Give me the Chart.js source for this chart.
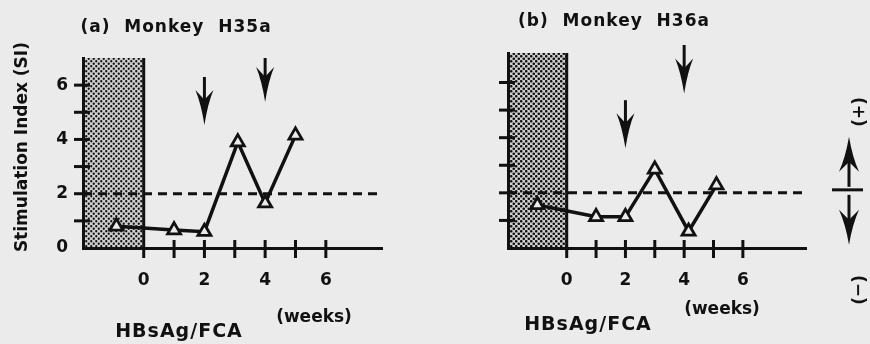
<!DOCTYPE html>
<html><head><meta charset="utf-8">
<script src="https://cdn.jsdelivr.net/npm/chart.js@4"></script>
<style>
html,body{margin:0;padding:0;background:#ebebeb;width:870px;height:344px;overflow:hidden}
#ca{position:absolute;left:0;top:0}
#cb{position:absolute;left:430px;top:0}
</style></head><body>
<canvas id="ca" width="430" height="344"></canvas>
<canvas id="cb" width="440" height="344"></canvas>
<script>
// ---- data ----
const weeksA = [-0.9, 1, 2, 3.1, 4, 5];
const siA    = [0.8, 0.66, 0.6, 3.9, 1.65, 4.15];
const weeksB = [-1, 1, 2, 3, 4.15, 5.1];
const siB    = [1.56, 1.13, 1.13, 2.85, 0.6, 2.28];
const thresholdSI = 2;
const immunization = [-2, 0];          // shaded HBsAg/FCA period (weeks)
const xTickLabels = [0, 2, 4, 6];
const yTickLabelsA = [0, 2, 4, 6];
const arrowWeeksA = [2, 4];
const arrowTailA  = [6.3, 7.0];
const arrowTipA   = [4.53, 5.38];
const arrowWeeksB = [2, 4];
const arrowTailB  = [5.36, 7.36];
const arrowTipB   = [3.62, 5.6];
const titleA = '(a)  Monkey  H35a';
const titleB = '(b)  Monkey  H36a';
const yTitle = 'Stimulation Index (SI)';
const weeksLabel = '(weeks)';
const immunLabel = 'HBsAg/FCA';

const FONT = '"DejaVu Sans", sans-serif';
const BG = '#ebebeb';
const INK = '#111';

function makePattern(ctx, r){
  const c = document.createElement('canvas'); c.width = 5; c.height = 5;
  const g = c.getContext('2d');
  g.fillStyle = '#cfcfcf'; g.fillRect(0,0,5,5);
  g.fillStyle = '#111';
  [[1.25,1.25],[3.75,3.75]].forEach(([x,y])=>{g.beginPath();g.arc(x,y,r,0,Math.PI*2);g.fill();});
  return ctx.createPattern(c,'repeat');
}

function drawArrow(ctx, x, yTail, yTip, headLen, headW){
  const dir = yTip > yTail ? 1 : -1;
  ctx.save();
  ctx.strokeStyle = INK; ctx.fillStyle = INK; ctx.lineWidth = 3;
  ctx.beginPath(); ctx.moveTo(x, yTail); ctx.lineTo(x, yTip - dir*headLen*0.6); ctx.stroke();
  const yb = yTip - dir*headLen;
  ctx.beginPath();
  ctx.moveTo(x, yTip);
  ctx.quadraticCurveTo(x+headW*0.18, yTip - dir*headLen*0.6, x+headW/2, yb);
  ctx.lineTo(x, yTip - dir*headLen*0.72);
  ctx.lineTo(x-headW/2, yb);
  ctx.quadraticCurveTo(x-headW*0.18, yTip - dir*headLen*0.6, x, yTip);
  ctx.fill();
  ctx.restore();
}

function panelPlugin(cfg){
  return {
    id: 'panel'+cfg.key,
    beforeDraw(chart){
      const {ctx, scales:{x,y}} = chart;
      const x0 = x.getPixelForValue(immunization[0]), x1 = x.getPixelForValue(immunization[1]);
      const yt = y.getPixelForValue(y.max), yb = y.getPixelForValue(0);
      ctx.save();
      ctx.fillStyle = makePattern(ctx, cfg.dotR);
      ctx.fillRect(x0, yt, x1-x0, yb-yt);
      ctx.restore();
    },
    beforeDatasetsDraw(chart){
      const {ctx, scales:{x,y}} = chart;
      const yb = y.getPixelForValue(0), yt = y.getPixelForValue(y.max);
      const xl = x.getPixelForValue(x.min);
      ctx.save();
      ctx.strokeStyle = INK; ctx.lineWidth = 3;
      const x1 = x.getPixelForValue(immunization[1]);
      ctx.beginPath(); ctx.moveTo(x1, yt); ctx.lineTo(x1, yb+10); ctx.stroke();
      for (let w = 1; w <= 6; w++){
        const px = x.getPixelForValue(w);
        ctx.beginPath(); ctx.moveTo(px, yb-8); ctx.lineTo(px, yb+10); ctx.stroke();
      }
      for (let v = 1; v <= 6; v++){
        const py = y.getPixelForValue(v);
        ctx.beginPath(); ctx.moveTo(xl-9, py); ctx.lineTo(xl+7, py); ctx.stroke();
      }
      ctx.restore();
    },
    afterDraw(chart){
      const {ctx, scales:{x,y}} = chart;
      ctx.save();
      for (let i = 0; i < cfg.arrowWeeks.length; i++){
        drawArrow(ctx, x.getPixelForValue(cfg.arrowWeeks[i]), y.getPixelForValue(cfg.arrowTail[i]), y.getPixelForValue(cfg.arrowTip[i]), 35, 18);
      }
      ctx.fillStyle = INK;
      ctx.textAlign = 'center'; ctx.textBaseline = 'middle';
      ctx.font = 'bold 17px ' + FONT;
      ctx.letterSpacing = '1px';
      ctx.fillText(cfg.title, cfg.titlePos[0], cfg.titlePos[1]);
      ctx.letterSpacing = '0px';
      ctx.fillText(weeksLabel, cfg.weeksPos[0], cfg.weeksPos[1]);
      ctx.font = 'bold 19px ' + FONT;
      ctx.letterSpacing = '1px';
      ctx.fillText(immunLabel, cfg.immPos[0], cfg.immPos[1]);
      ctx.letterSpacing = '0px';
      if (cfg.legend){
        const ly = y.getPixelForValue(thresholdSI) - 3;
        const lx = cfg.legend;
        ctx.lineWidth = 3; ctx.strokeStyle = INK;
        ctx.beginPath(); ctx.moveTo(lx-17, ly); ctx.lineTo(lx+14, ly); ctx.stroke();
        drawArrow(ctx, lx, ly-3, ly-53, 35, 20);
        drawArrow(ctx, lx, ly+5, ly+55, 35, 20);
        ctx.font = 'bold 17px ' + FONT;
        ['(+)','(\u2212)'].forEach((t,i)=>{
          ctx.save();
          ctx.translate(lx+8, i===0 ? ly-78 : ly+100);
          ctx.rotate(Math.PI/2);
          ctx.fillText(t, 0, 0);
          ctx.restore();
        });
      }
      ctx.restore();
    }
  };
}

function makeChart(id, cfg){
  const pts = cfg.weeks.map((w,i)=>({x:w, y:cfg.si[i]}));
  return new Chart(document.getElementById(id), {
    type: 'scatter',
    data: { datasets: [
      { data: pts, showLine: true, borderColor: INK, borderWidth: 3.5,
        pointStyle: 'triangle', pointRadius: 7.5, pointBorderWidth: 2.8,
        pointBackgroundColor: BG, pointBorderColor: INK, clip: false, order: 0 },
      { data: [{x: cfg.xmin, y: thresholdSI}, {x: cfg.xmax, y: thresholdSI}],
        showLine: true, borderColor: INK, borderWidth: 3, borderDash: [9, 6],
        pointRadius: 0, order: 1 }
    ]},
    options: {
      responsive: false, animation: false, devicePixelRatio: 1,
      plugins: { legend: {display: false}, tooltip: {enabled: false} },
      layout: { padding: { left: 0, top: cfg.top, right: cfg.right, bottom: 0 } },
      scales: {
        x: { type: 'linear', min: cfg.xmin, max: cfg.xmax,
             afterFit: s => { s.height = 96; },
             afterBuildTicks: s => { s.ticks = []; for (let w = cfg.xmin; w <= 7; w++) s.ticks.push({value: w}); },
             grid: { display: false, drawTicks: false },
             border: { display: true, color: INK, width: 3 },
             ticks: { padding: 22, color: INK, font: { family: FONT, size: 17, weight: 'bold' },
                      maxRotation: 0, autoSkip: false,
                      callback: v => xTickLabels.includes(v) ? String(v) : '' } },
        y: { type: 'linear', min: 0, max: cfg.ymax,
             afterFit: s => { s.width = cfg.yw; },
             afterBuildTicks: s => { s.ticks = []; for (let v = 0; v <= 6; v++) s.ticks.push({value: v}); },
             grid: { display: false, drawTicks: false },
             border: { display: true, color: INK, width: 3 },
             title: { display: cfg.yTitle, text: '  ' + yTitle, color: INK, padding: {top: 12},
                      font: { family: FONT, size: 17, weight: 'bold' } },
             ticks: { display: cfg.yLabels, padding: 15, color: INK, font: { family: FONT, size: 17, weight: 'bold' },
                      callback: v => yTickLabelsA.includes(v) ? String(v) : '' } }
      }
    },
    plugins: [panelPlugin(cfg)]
  });
}

makeChart('ca', { key: 'A', weeks: weeksA, si: siA, xmin: -2, xmax: 7.85, ymax: 7,
  top: 58, right: 48, yw: 83, yTitle: true, yLabels: true, dotR: 1.15,
  arrowWeeks: arrowWeeksA, arrowTail: arrowTailA, arrowTip: arrowTipA,
  title: titleA, titlePos: [176, 28], weeksPos: [314, 318], immPos: [179, 332] });

makeChart('cb', { key: 'B', weeks: weeksB, si: siB, xmin: -2, xmax: 8.15, ymax: 7.07,
  top: 53, right: 64, yw: 78, yTitle: false, yLabels: false, dotR: 1.3,
  arrowWeeks: arrowWeeksB, arrowTail: arrowTailB, arrowTip: arrowTipB,
  title: titleB, titlePos: [184, 22], weeksPos: [292, 310], immPos: [158, 325],
  legend: 419 });
</script>
</body></html>
